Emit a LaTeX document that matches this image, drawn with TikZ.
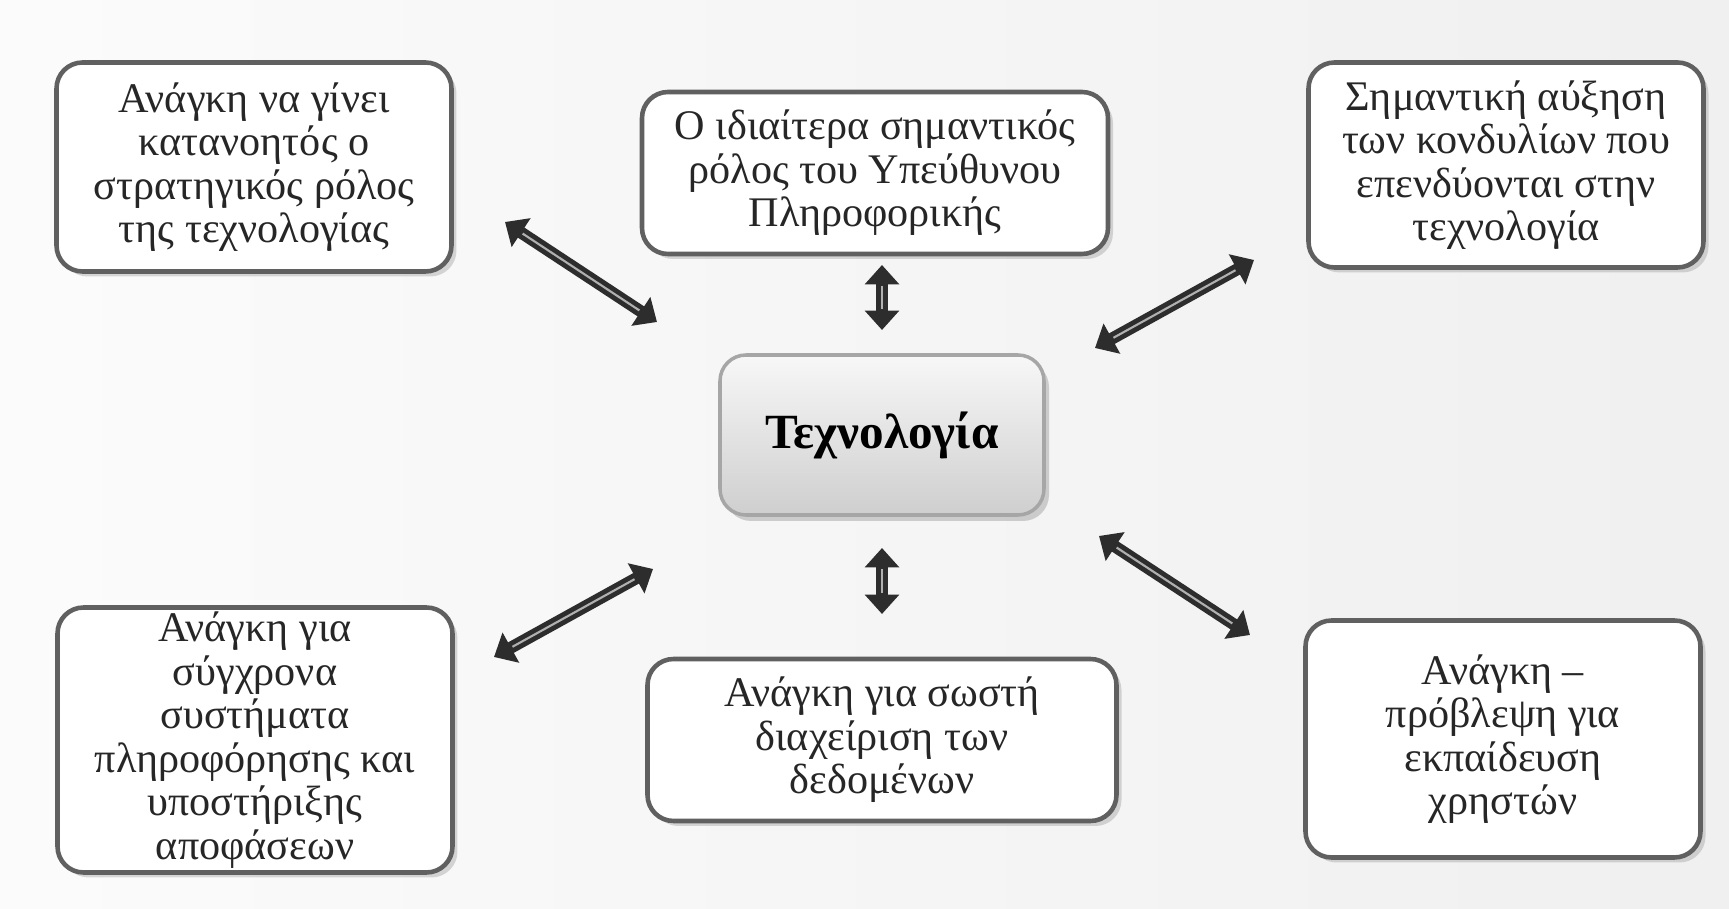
\documentclass[tikz,border=0pt]{standalone}
\usepackage{fontspec}
\setmainfont{Liberation Serif}
\usepackage{tikz}
\usetikzlibrary{positioning,arrows.meta,shadows}

\begin{document}
\begin{tikzpicture}[x=0.1mm,y=-0.1mm,
    box/.style={draw=gray!75!black,line width=1.3pt,rounded corners=2.6mm,fill=white,
      align=center,inner sep=0pt,text=black!85,font=\fontsize{12}{12.4}\selectfont,
      drop shadow={shadow xshift=.5mm,shadow yshift=-.5mm,opacity=.3}},
    core/.style={draw=gray!70,line width=1pt,rounded corners=2.6mm,top color=gray!6,bottom color=gray!38,
      align=center,inner sep=0pt,font=\fontsize{14}{16}\selectfont\bfseries,
      drop shadow={shadow xshift=.5mm,shadow yshift=-.6mm,opacity=.35}},
    dbl/.style={{Triangle[width=9.5pt,length=5.5pt]}-{Triangle[width=9.5pt,length=5.5pt]},line width=3.4pt,draw=gray!35!black},
    shine/.style={line width=.6pt,draw=gray!62,shorten <=6pt,shorten >=6pt}]
    \useasboundingbox (0,0) rectangle (1729,909);
    \shade[left color=gray!3,right color=gray!12] (0,0) rectangle (1729,909);

    \node[core,minimum width=32.4mm,minimum height=16mm] (tech) at (882,435) {Τεχνολογία};

    \node[box,minimum width=39.5mm,minimum height=20.9mm] (role) at (254,167) {Ανάγκη να γίνει\\κατανοητός ο\\στρατηγικός ρόλος\\της τεχνολογίας};
    \node[box,minimum width=46.6mm,minimum height=16.2mm] (cio) at (875,173) {Ο ιδιαίτερα σημαντικός\\ρόλος του Υπεύθυνου\\Πληροφορικής};
    \node[box,minimum width=39.5mm,minimum height=20.5mm] (fund) at (1506,165) {Σημαντική αύξηση\\των κονδυλίων που\\επενδύονται στην\\τεχνολογία};
    \node[box,minimum width=39.5mm,minimum height=26.5mm] (sys) at (255,740) {Ανάγκη για\\σύγχρονα\\συστήματα\\πληροφόρησης και\\υποστήριξης\\αποφάσεων};
    \node[box,minimum width=46.9mm,minimum height=16.2mm] (data) at (882,740) {Ανάγκη για σωστή\\διαχείριση των\\δεδομένων};
    \node[box,minimum width=39.5mm,minimum height=23.7mm] (train) at (1503,739) {Ανάγκη --\\πρόβλεψη για\\εκπαίδευση\\χρηστών};

    % free ends of the arrows
    \coordinate (r1) at (505,222);  \coordinate (r2) at (657,322);
    \coordinate (c1) at (882,265);  \coordinate (c2) at (882,330);
    \coordinate (f1) at (1254,260); \coordinate (f2) at (1095,348);
    \coordinate (s1) at (653,569);  \coordinate (s2) at (494,657);
    \coordinate (d1) at (882,548);  \coordinate (d2) at (882,614);
    \coordinate (t1) at (1099,536); \coordinate (t2) at (1250,635);

    \foreach \a/\b in {r1/r2,c1/c2,f1/f2,s1/s2,d1/d2,t1/t2} {
      \draw[dbl] (\a) -- (\b);
      \draw[shine] (\a) -- (\b);
    }
\end{tikzpicture}
\end{document}
